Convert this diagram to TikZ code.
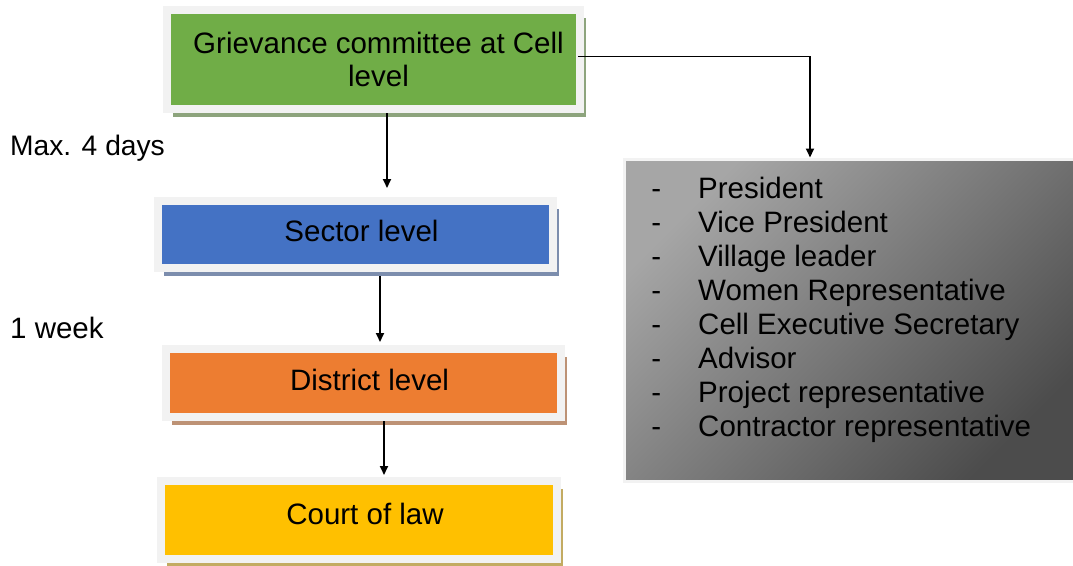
\documentclass[tikz,border=0pt]{standalone}
\usepackage{fontspec}
\setmainfont{Liberation Sans}
\usetikzlibrary{arrows.meta,shadows}
\definecolor{cellgreen}{HTML}{70AD47}
\definecolor{sectorblue}{HTML}{4472C4}
\definecolor{districtorange}{HTML}{ED7D31}
\definecolor{courtyellow}{HTML}{FFC000}
\definecolor{framegray}{HTML}{F2F2F2}

\begin{document}
\begin{tikzpicture}[x=1pt,y=-1pt,
    every node/.style={font=\fontsize{29.5}{33.3}\selectfont, inner sep=0pt},
    level/.style={draw=framegray, line width=8pt, fill=#1,
      drop shadow={shadow xshift=6pt, shadow yshift=-8pt, fill=#1!45!gray!85, opacity=1}},
    onerow/.style={text height=21pt, text depth=7pt, execute at begin node=\hspace*{12pt}},
    arr/.style={line width=1.8pt, -{Triangle[width=8pt,length=9pt]}}]
    \useasboundingbox (0,0) rectangle (1073,565);

    \node (griev)[level=cellgreen, align=center, minimum width=413pt, minimum height=99pt]
        at (373.5,59.5) {\hspace*{10pt}Grievance committee at Cell\\\hspace*{10pt}level};
    \node (sector)[level=sectorblue, onerow, minimum width=395pt, minimum height=67pt]
        at (355.5,234.5) {Sector level};
    \node (district)[level=districtorange, onerow, minimum width=395pt, minimum height=68pt]
        at (363.5,383) {District level};
    \node (court)[level=courtyellow, onerow, text depth=13pt, minimum width=396pt, minimum height=78pt]
        at (359,520) {Court of law};

    \node (maxdays)[anchor=base west, font=\fontsize{28.2}{33}\selectfont] at (10,155) {Max. 4 days};
    \node (oneweek)[anchor=base west] at (10,338) {1 week};

    \node (members)[draw=framegray, line width=3pt, top color=black!35, bottom color=black!70,
        shading angle=45, minimum width=456pt, minimum height=322.5pt] at (852,320.25) {};

    \foreach \member [count=\i] in {President, Vice President, Village leader,
        Women Representative, Cell Executive Secretary, Advisor,
        Project representative, Contractor representative}
      \node (m\i)[anchor=base west] at (698,164+34*\i) {\llap{-\hspace{37pt}}\member};

    \draw[arr] ([xshift=13.5pt]griev.south) -- ([xshift=31.5pt,yshift=9pt]sector.north);
    \draw[arr] ([xshift=24.5pt,yshift=-4pt]sector.south) -- ([xshift=16.5pt,yshift=3pt]district.north);
    \draw[arr] ([xshift=20.5pt]district.south) -- ([xshift=25pt,yshift=2pt]court.north);
    \draw[arr] ([xshift=-6pt,yshift=3pt]griev.east) -| ([xshift=-42pt]members.north);
\end{tikzpicture}
\end{document}
